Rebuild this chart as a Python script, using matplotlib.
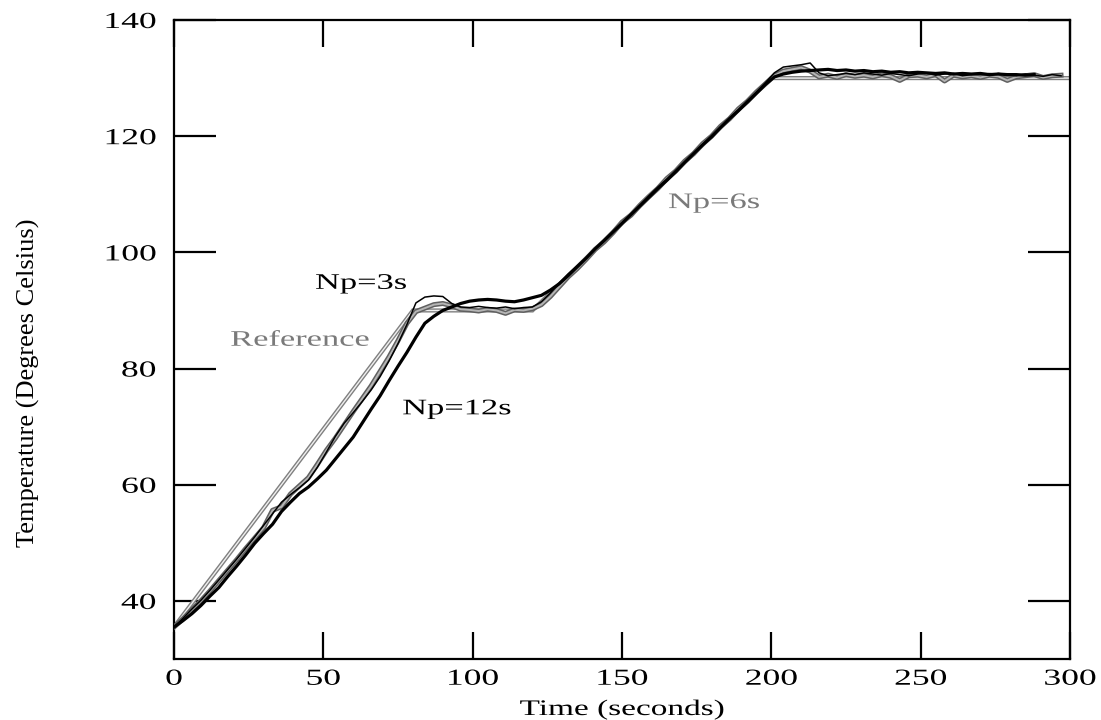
import matplotlib
matplotlib.use("Agg")
import matplotlib.pyplot as plt
import matplotlib.patheffects as pe
from matplotlib.transforms import Affine2D

# ---------------- data ----------------
time_s = list(range(0, 300, 3))

ref_time = [0, 80, 120, 200, 300]
ref_temp = [35.5, 90, 90, 130, 130]

np3_temp = [35.5, 37.0, 38.6, 40.1, 41.8, 43.6, 45.4, 47.2, 49.1, 51.0,
            53.0, 55.0, 57.0, 58.3, 59.5, 60.8, 63.0, 65.6, 68.3, 70.6,
            72.4, 74.3, 76.3, 78.6, 81.3, 84.3, 87.6, 91.3, 92.3, 92.5,
            92.4, 91.2, 90.6, 90.5, 90.7, 90.5, 90.4, 90.6, 90.3, 90.5,
            90.6, 91.5, 93.0, 94.7, 96.3, 97.7, 99.1, 100.6, 102.1, 103.6,
            105.1, 106.6, 108.1, 109.7, 111.2, 112.6, 114.1, 115.6, 117.1, 118.6,
            120.1, 121.6, 123.1, 124.6, 126.1, 127.6, 129.2, 130.9, 131.9, 132.1,
            132.3, 132.6, 130.9, 130.4, 130.6, 130.8, 130.6, 130.9, 130.7, 130.5,
            130.8, 130.6, 130.4, 130.7, 130.9, 130.5, 130.7, 130.8, 130.4, 130.6,
            130.7, 130.5, 130.8, 130.6, 130.4, 130.7, 130.5, 130.3, 130.6, 130.4]

np6_temp = [35.5, 36.9, 38.5, 40.0, 41.7, 43.5, 45.3, 47.1, 49.0, 50.8,
            52.6, 55.6, 56.2, 58.4, 59.8, 61.2, 63.5, 65.9, 68.0, 70.3,
            72.6, 74.8, 77.0, 79.5, 82.0, 84.8, 87.8, 89.8, 90.4, 91.0,
            91.2, 90.8, 90.2, 90.1, 89.9, 90.2, 90.0, 89.5, 90.1, 90.0,
            90.3, 91.0, 92.4, 94.1, 95.8, 97.2, 98.8, 100.5, 101.8, 103.4,
            105.2, 106.4, 108.1, 109.6, 111.0, 112.7, 114.0, 115.7, 117.0, 118.7,
            120.0, 121.7, 123.0, 124.7, 126.0, 127.6, 129.0, 130.4, 131.2, 131.5,
            131.8, 131.2, 130.2, 130.5, 130.1, 130.6, 130.3, 130.5, 130.2, 130.6,
            130.3, 129.6, 130.4, 130.5, 130.2, 130.6, 129.5, 130.5, 130.2, 130.4,
            130.1, 130.5, 130.3, 129.6, 130.2, 130.4, 130.6, 130.1, 130.4, 130.5]

np12_temp = [35.5, 36.6, 37.8, 39.2, 40.8, 42.3, 44.2, 46.0, 47.9, 49.9,
             51.6, 53.2, 55.4, 57.0, 58.5, 59.6, 61.0, 62.5, 64.4, 66.3,
             68.2, 70.6, 73.0, 75.3, 77.9, 80.4, 82.8, 85.4, 87.8, 89.0,
             90.0, 90.6, 91.2, 91.6, 91.8, 91.9, 91.8, 91.6, 91.5, 91.8,
             92.2, 92.6, 93.5, 94.6, 96.0, 97.5, 99.0, 100.6, 102.0, 103.5,
             105.0, 106.5, 108.0, 109.5, 111.0, 112.4, 113.9, 115.5, 117.0, 118.5,
             119.9, 121.5, 123.0, 124.4, 125.9, 127.4, 128.9, 130.2, 130.7, 131.0,
             131.2, 131.3, 131.4, 131.5, 131.3, 131.4, 131.2, 131.3, 131.1, 131.2,
             131.0, 131.1, 130.9, 131.0, 130.9, 130.8, 130.9, 130.7, 130.8, 130.7,
             130.8, 130.6, 130.7, 130.6, 130.6, 130.5, 130.6]

x_ticks = [0, 50, 100, 150, 200, 250, 300]
y_ticks = [40, 60, 80, 100, 120, 140]

labels = {"Np=3s": (62.6, 94.5, "black"),
          "Reference": (42.2, 84.7, "#7a7a7a"),
          "Np=12s": (94.7, 72.9, "black"),
          "Np=6s": (180.8, 108.4, "#7a7a7a")}

# --------------- text stretch effect ---------------
class Stretch(pe.AbstractPathEffect):
    def __init__(self, sx=1.55, anchor="center"):
        super().__init__()
        self.sx = sx
        self.anchor = anchor

    def draw_path(self, renderer, gc, tpath, affine, rgbFace=None):
        ext = tpath.get_extents()
        if self.anchor == "right":
            c = ext.x1
        elif self.anchor == "left":
            c = ext.x0
        else:
            c = 0.5 * (ext.x0 + ext.x1)
        st = Affine2D().translate(-c, 0).scale(self.sx, 1.0).translate(c, 0)
        renderer.draw_path(gc, tpath, st + affine, rgbFace)


plt.rcParams["font.family"] = ["Liberation Serif", "DejaVu Serif"]

fig = plt.figure(figsize=(11.01, 7.2), dpi=100)
ax = fig.add_axes([174 / 1101, 1 - 659 / 720, (1070 - 174) / 1101, (659 - 20) / 720])

# Reference (hollow double gray line)
ax.plot(ref_time, ref_temp, color="#f0f0f0", lw=1.0, solid_joinstyle="miter",
        path_effects=[pe.Stroke(linewidth=3.0, foreground="#808080"), pe.Normal()], zorder=2)
# Np=6s (hatched gray)
ax.plot(time_s, np6_temp, color="#b5b5b5", lw=1.4,
        path_effects=[pe.Stroke(linewidth=3.6, foreground="#606060"), pe.Normal()], zorder=3)
# Np=3s (thin black)
ax.plot(time_s, np3_temp, color="black", lw=1.1, zorder=4)
# Np=12s (thick black)
ax.plot(time_s[:len(np12_temp)], np12_temp, color="black", lw=2.3, zorder=5)

ax.set_xlim(0, 300)
ax.set_ylim(30, 140)
ax.set_xticks(x_ticks)
ax.set_yticks(y_ticks)
ax.set_xticklabels([str(v) for v in x_ticks])
ax.set_yticklabels([str(v) for v in y_ticks])

for s in ax.spines.values():
    s.set_linewidth(1.6)
ax.tick_params(axis="x", which="major", direction="in", top=True, bottom=True,
               length=19.5, width=1.6, pad=7, labelsize=16.5)
ax.tick_params(axis="y", which="major", direction="in", left=True, right=True,
               length=30, width=1.6, pad=13, labelsize=16.5)

for t in ax.xaxis.get_major_ticks():
    t.label1.set_path_effects([Stretch(1.55, "center")])
for t in ax.yaxis.get_major_ticks():
    t.label1.set_path_effects([Stretch(1.55, "right")])

for txt, (x, y, c) in labels.items():
    ax.text(x, y, txt, color=c, fontsize=16, ha="center", va="center",
            path_effects=[Stretch(1.55, "center")], zorder=6)

fig.text(622 / 1101, 1 - 715 / 720, "Time (seconds)", fontsize=16, ha="center",
         va="baseline", path_effects=[Stretch(1.5, "center")])
fig.text(28 / 1101, 1 - 383 / 720, "Temperature (Degrees Celsius)", fontsize=19,
         rotation=90, ha="center", va="center")

fig.savefig("out.png", dpi=100, facecolor="white")
